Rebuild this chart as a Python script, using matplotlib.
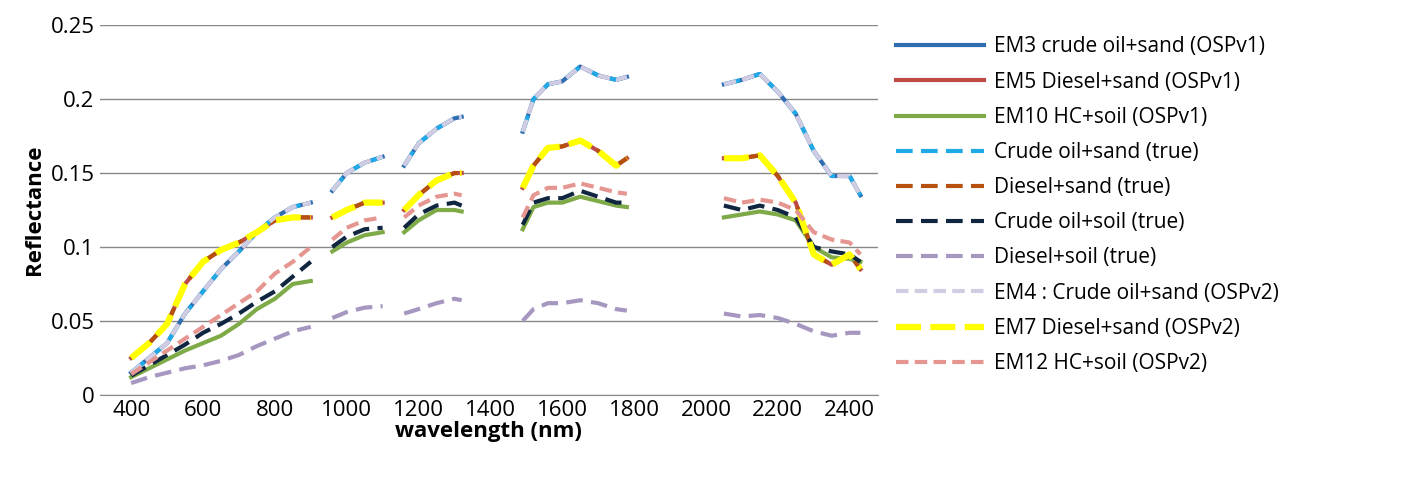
import matplotlib.pyplot as plt
import numpy as np

nan = np.nan
# wavelength samples; NaN separates the absorption gaps
wl = [400, 450, 500, 550, 600, 650, 700, 750, 800, 850, 900, nan,
      960, 1000, 1050, 1100, nan,
      1160, 1200, 1250, 1300, 1320, nan,
      1490, 1520, 1560, 1600, 1650, 1700, 1750, 1780, nan,
      2050, 2100, 2150, 2200, 2250, 2300, 2350, 2400, 2430]

crude_sand = [0.015, 0.025, 0.035, 0.055, 0.07, 0.085, 0.097, 0.11, 0.12, 0.127, 0.13, nan,
              0.138, 0.15, 0.157, 0.161, nan,
              0.155, 0.17, 0.18, 0.187, 0.188, nan,
              0.178, 0.2, 0.21, 0.212, 0.222, 0.216, 0.213, 0.215, nan,
              0.21, 0.213, 0.217, 0.205, 0.19, 0.165, 0.148, 0.148, 0.135]
diesel_sand = [0.025, 0.035, 0.048, 0.075, 0.09, 0.098, 0.103, 0.11, 0.118, 0.12, 0.12, nan,
               0.12, 0.125, 0.13, 0.13, nan,
               0.125, 0.135, 0.145, 0.15, 0.15, nan,
               0.14, 0.155, 0.167, 0.168, 0.172, 0.165, 0.155, 0.16, nan,
               0.16, 0.16, 0.162, 0.148, 0.13, 0.095, 0.088, 0.095, 0.085]
hc_soil = [0.012, 0.018, 0.024, 0.03, 0.035, 0.04, 0.048, 0.058, 0.065, 0.075, 0.077, nan,
           0.097, 0.103, 0.108, 0.11, nan,
           0.11, 0.118, 0.125, 0.125, 0.124, nan,
           0.112, 0.127, 0.13, 0.13, 0.134, 0.131, 0.128, 0.127, nan,
           0.12, 0.122, 0.124, 0.122, 0.118, 0.1, 0.093, 0.092, 0.09]
crude_soil = [0.013, 0.02, 0.027, 0.034, 0.042, 0.048, 0.055, 0.063, 0.07, 0.08, 0.09, nan,
              0.1, 0.107, 0.112, 0.113, nan,
              0.113, 0.122, 0.128, 0.13, 0.128, nan,
              0.115, 0.13, 0.133, 0.133, 0.138, 0.134, 0.13, 0.13, nan,
              0.128, 0.125, 0.128, 0.125, 0.12, 0.1, 0.097, 0.095, 0.09]
hc_soil_v2 = [0.014, 0.022, 0.03, 0.038, 0.046, 0.054, 0.062, 0.07, 0.082, 0.09, 0.1, nan,
              0.105, 0.113, 0.118, 0.12, nan,
              0.12, 0.128, 0.134, 0.136, 0.135, nan,
              0.12, 0.135, 0.14, 0.14, 0.143, 0.14, 0.137, 0.136, nan,
              0.133, 0.13, 0.132, 0.13, 0.125, 0.11, 0.105, 0.103, 0.095]
diesel_soil = [0.008, 0.012, 0.015, 0.018, 0.02, 0.023, 0.027, 0.033, 0.038, 0.043, 0.046, nan,
               0.052, 0.056, 0.059, 0.06, nan,
               0.055, 0.058, 0.062, 0.065, 0.064, nan,
               0.05, 0.058, 0.062, 0.062, 0.064, 0.062, 0.058, 0.057, nan,
               0.055, 0.053, 0.054, 0.052, 0.048, 0.043, 0.04, 0.042, 0.042]

series = [
    ("EM3 crude oil+sand (OSPv1)", crude_sand, "#2E6DAF", "-", 3),
    ("EM5 Diesel+sand (OSPv1)", diesel_sand, "#BE4B48", "-", 3),
    ("EM10 HC+soil (OSPv1)", hc_soil, "#7EAA48", "-", 3),
    ("Crude oil+sand (true)", crude_sand, "#1FA9E6", (0, (4, 2)), 3),
    ("Diesel+sand (true)", diesel_sand, "#B5500E", (0, (4, 2)), 3),
    ("Crude oil+soil (true)", crude_soil, "#102640", (0, (4, 2)), 3),
    ("Diesel+soil (true)", diesel_soil, "#A697C0", (0, (4, 2)), 3),
    ("EM4 : Crude oil+sand (OSPv2)", crude_sand, "#D2CCE2", (0, (3, 1.5)), 3),
    ("EM7 Diesel+sand (OSPv2)", diesel_sand, "#FFFF00", (0, (4, 1.5)), 4.5),
    ("EM12 HC+soil (OSPv2)", hc_soil_v2, "#E69690", (0, (3, 1.5)), 3),
]

plt.rcParams["font.family"] = ["Open Sans", "DejaVu Sans"]

fig = plt.figure(figsize=(14.02, 4.93), dpi=100)
ax = fig.add_axes([0.071, 0.199, 0.555, 0.75])
for label, vals, color, ls, lw in series:
    ax.plot(wl, vals, color=color, ls=ls, lw=lw, label=label)

ax.set_xlim(312, 2478)
ax.set_ylim(0, 0.25)
ax.set_xticks(range(400, 2401, 200))
ax.set_yticks([0, 0.05, 0.1, 0.15, 0.2, 0.25])
ax.set_yticklabels(["0", "0.05", "0.1", "0.15", "0.2", "0.25"])
ax.grid(axis="y", color="#888888", lw=1)
ax.set_axisbelow(True)
for s in ("top", "right", "left"):
    ax.spines[s].set_visible(False)
ax.spines["bottom"].set_color("#888888")
ax.tick_params(labelsize=16, length=0)
ax.set_xlabel("wavelength (nm)", fontsize=16, fontweight="bold", labelpad=0)
ax.set_ylabel("Reflectance", fontsize=16, fontweight="bold", labelpad=4)
ax.legend(loc="upper left", bbox_to_anchor=(1.0, 1.02), frameon=False,
          fontsize=15, handlelength=4.2, labelspacing=0.68, handletextpad=0.5)

fig.savefig("out.png")
